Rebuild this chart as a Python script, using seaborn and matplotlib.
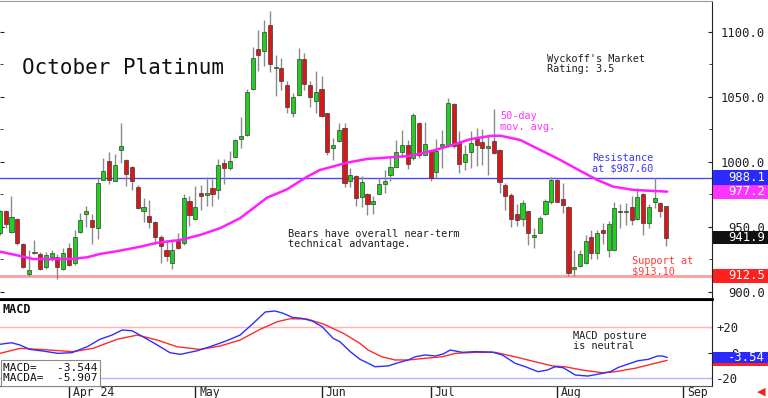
import numpy as np
import pandas as pd
import matplotlib
matplotlib.use("Agg")
import matplotlib.pyplot as plt
import matplotlib.transforms as mtransforms
from matplotlib.patches import Rectangle
import seaborn as sns

# daily candles, Mar 13 - Aug 27 2024
opens = [945, 962, 946, 956, 937, 914, 930, 929, 919, 927, 927, 918, 933.5, 922, 946, 960, 955, 949.5, 986, 1001,
         985.5, 1009, 1001.5, 996.5, 981, 962.5, 958.5, 953.5, 942, 932.5, 922, 939, 937.5, 970, 956.5, 976, 974.5, 980, 978.5, 999,
         995, 1004, 1017.5, 1021, 1056, 1087, 1085, 1105.5, 1072.5, 1072, 1059, 1037.5, 1051.5, 1079, 1059, 1047, 1056, 1037.5, 1010.5, 1016,
         1026, 985.5, 989.5, 973, 975, 967.5, 975.5, 983, 990, 996.5, 1007.5, 1013, 1003, 1030, 1005.5, 1009, 992.5, 1012.5, 1012, 1044.5,
         1015.5, 1000, 1008, 1018, 1015.5, 1011, 1016.5, 1009.5, 982.5, 974.5, 960, 956, 962, 942.5, 945.5, 960, 969.5, 986, 971.5, 965.5,
         918, 920, 922, 942, 930, 947.5, 932, 932, 962.5, 961.5, 965, 956.5, 975, 953, 969.5, 968.5, 966]
highs = [963, 963, 974, 957, 937.5, 932, 940, 931, 931, 932, 929, 934, 937.5, 948, 961, 966, 960, 988.5, 1003, 1008,
         1006, 1030, 1002, 997, 982, 972, 970.5, 954.5, 943.5, 940, 941, 945, 975, 973.5, 981.5, 982, 988.5, 987, 1002.5, 1002,
         1008.5, 1018, 1034.5, 1056, 1088.5, 1101.5, 1109.5, 1116, 1082.5, 1080, 1062.5, 1053, 1087.5, 1083.5, 1062, 1070, 1066.5, 1038, 1018.5, 1030,
         1030, 995, 990, 989, 976, 974, 988, 994, 1004, 1017, 1024.5, 1017, 1038, 1030.5, 1031, 1010, 1018, 1024.5, 1049, 1045,
         1023.5, 1013, 1023.5, 1026, 1025, 1021, 1041, 1010, 983.5, 976.5, 968, 971, 962.5, 949, 958.5, 971.5, 988.5, 987.5, 983.5, 966,
         932, 932, 944, 947.5, 948, 953, 954.5, 969.5, 967.5, 968.5, 973.5, 980, 976.5, 967.5, 987.5, 969, 966.5]
lows = [944, 949, 945, 936, 918.5, 912, 929, 917, 918, 924, 910, 917, 920, 921, 945, 950, 937, 941, 986, 983,
        985, 999, 981.5, 978.5, 963.5, 954, 949, 937, 922.5, 923.5, 917.5, 933, 936.5, 951, 955, 963, 966.5, 966, 971.5, 983,
        994, 1003.5, 1010.5, 1020, 1055, 1070, 1073.5, 1069, 1051, 1055.5, 1038, 1034.5, 1051, 1055.5, 1042.5, 1037.5, 1034.5, 1005, 1001.5, 1015.5,
        981, 981, 966.5, 965.5, 959, 960, 975, 976, 985.5, 996, 1004, 994.5, 1001.5, 1003, 1005, 985.5, 987.5, 995, 1011.5, 1011,
        991.5, 994, 995, 997, 997.5, 990, 1006, 976, 963, 950, 951, 951, 936, 933.5, 945, 959.5, 968, 969, 960.5, 912,
        912, 919.5, 921.5, 925, 925, 937, 927, 931.5, 949, 951.5, 951.5, 955, 944, 949, 964.5, 958, 935.5]
closes = [962, 952, 958, 937.5, 919.5, 917, 931, 917.5, 928.5, 930, 919, 930, 921, 942, 955, 962, 950, 983.5, 993, 986,
          998, 1012, 991, 985.5, 964.5, 965.5, 954, 942.5, 935, 928, 932.5, 934, 972, 959, 965.5, 973.5, 976.5, 975, 998, 995,
          1001, 1017, 1020, 1053.5, 1080, 1082, 1100, 1075, 1073, 1062.5, 1042.5, 1050, 1079, 1060, 1050, 1053.5, 1035, 1008, 1013, 1024.5,
          983.5, 990, 972, 984.5, 967.5, 970, 983, 985, 996.5, 1007.5, 1013, 998.5, 1036, 1005.5, 1014, 987.5, 1008.5, 1013.5, 1045, 1012,
          998.5, 1006, 1014.5, 1013, 1010.5, 1012, 1007, 984.5, 973.5, 956, 955, 968.5, 945, 944, 957, 970, 986, 969.5, 967, 914.5,
          919.5, 929, 939, 930, 945.5, 945.5, 952, 964.5, 961.5, 962.5, 955, 973, 953, 965.5, 972, 962.5, 941.9]

# 50-day moving average, read at candle positions
ma_idx = [0, 3.5, 5.7, 8.7, 12.7, 15.2, 17.4, 20.9, 24.4, 27.4, 31.4, 34.8, 38.3, 41.8, 44.1, 46.5, 50, 53.5, 55.7, 60.5,
          63.9, 69.7, 71.4, 75.4, 78.4, 81.9, 85.4, 87.1, 90.6, 94.1, 97.6, 101, 104, 106.8, 110.3, 113.8, 116.2]
ma_vals = [931, 927.7, 925.4, 925.2, 925.4, 926.7, 929.2, 931.8, 934.8, 937.9, 940, 943.8, 949, 956.7, 964.4, 972.5, 979, 988.7, 993.8, 999.5,
           1002.3, 1004.1, 1004.6, 1008.7, 1012.5, 1017.5, 1020, 1020.2, 1016.9, 1009.2, 1001.5, 993.3, 986.2, 981, 978.5, 977.7, 977.2]

# MACD and its average (MACDA)
macd_idx = [0, 2, 3.5, 5.2, 7.5, 10.1, 12.5, 15.2, 17.4, 19.5, 21.3, 23, 24.9, 27.4, 29.6, 31.4, 34.3, 36.6, 39.5, 41.8,
            44.1, 46.2, 47.9, 49.3, 50.9, 52.6, 54.4, 56.1, 58, 59.2, 61, 62.7, 63.6, 65.3, 67.6, 69.3, 71.1, 72.3, 74, 75.8,
            77.2, 78.4, 80.5, 82.8, 85.7, 87.5, 89.7, 91.5, 93.7, 95.3, 96.7, 98.1, 100.2, 102.4, 104.9, 106.3, 107.7, 109.4, 111.1, 112.9,
            114.5, 115.3, 116.2]
macd_vals = [6.7, 7.9, 6.1, 2.7, 1.4, -0.4, 0.1, 4.8, 10.6, 13.9, 17.9, 17.3, 12.6, 6.1, 0.1, -1.2, 1.6, 4.8, 9.5, 13.9,
             23.1, 32, 32.8, 31, 27.8, 27, 24.9, 20.5, 11.4, 8.7, 0.9, -5.1, -7, -10.9, -10.3, -7.8, -5.6, -3.1, -1.7, -2.5,
             -0.9, 2.2, 0.4, 0.9, 0.6, -1.7, -8.2, -10.9, -14.8, -13.5, -10.9, -11.7, -17.4, -18.2, -16.1, -14.8, -11.4, -8.8, -6.2, -5.1,
             -2.5, -2.5, -3.544]
sig_idx = [0, 3.5, 7, 12.7, 16.2, 20.4, 23.9, 27.4, 30.8, 34.8, 38.3, 41.8, 45.3, 48.3, 50.5, 53.5, 56.3, 59.8, 62.7, 64.1,
           66.5, 68.8, 71.1, 74, 77, 79.3, 82.8, 86.2, 89.7, 93.2, 96.2, 98.4, 101.4, 104.9, 107.1, 110.6, 114.1, 116.2]
sig_vals = [-0.4, 3.5, 2.7, 0.9, 3.5, 10.6, 13.9, 10, 4.8, 2.7, 5.3, 10, 18.4, 24.4, 26.7, 26.5, 22.6, 15.3, 7.4, 2.2,
            -3.1, -5.6, -5.6, -4.3, -3.1, -0.4, 0.4, 0.4, -3.1, -7, -10.3, -10.9, -13.5, -15.6, -14.8, -12.1, -8.2, -5.907]

resistance = 987.6
support = 912.5
ma_last = 977.2

# trading days (exchange holidays removed)
holidays = ['2024-03-29', '2024-05-27', '2024-06-19', '2024-07-04', '2024-09-02']
bday = pd.offsets.CustomBusinessDay(holidays=holidays)
all_days = pd.date_range('2024-03-13', periods=125, freq=bday)
month_pos = [i for i in range(1, len(all_days)) if all_days[i].month != all_days[i - 1].month]
month_lab = [all_days[i].strftime('%b') for i in month_pos]
month_lab[0] = month_lab[0] + ' 24'

sns.set_style("white")
plt.rcParams['font.family'] = ['DejaVu Sans Mono', 'DejaVu Sans']

fig = plt.figure(figsize=(7.68, 3.98), dpi=100)
ax = fig.add_axes([0, 1 - 299 / 398, 712 / 768, 298 / 398])
ax2 = fig.add_axes([0, 1 - 386 / 398, 712 / 768, 86 / 398])

# candles
x = np.arange(len(closes))
o = np.array(opens, dtype=float)
c = np.array(closes, dtype=float)
up = c >= o
height = np.abs(c - o)
bottom = np.where(height < 1.2, (o + c) / 2 - 0.6, np.minimum(o, c))
height = np.maximum(height, 1.2)
ax.vlines(x, lows, highs, color='#8a8a8a', lw=1, zorder=2)
ax.bar(x, height, bottom=bottom, width=0.72, color=np.where(up, '#1fd01f', '#d81818'),
       edgecolor='#3a3a3a', linewidth=0.5, zorder=3)

sns.lineplot(x=ma_idx, y=ma_vals, ax=ax, color='#ff1eff', lw=1.8, estimator=None, sort=False, zorder=4)
ax.axhline(resistance, color='#4848ff', lw=1, zorder=1)
ax.axhline(support, color='#ff9c9c', lw=2, zorder=1)

ax.set_xlim(0, 124)
ax.set_ylim(894.6, 1123.8)
ax.set_xticks([])

# right price scale
ax.yaxis.tick_right()
ax.set_yticks([900, 950, 1000, 1050, 1100])
ax.set_yticklabels([f'{v:.1f}' for v in [900, 950, 1000, 1050, 1100]])
ax.set_yticks([925, 975, 1025, 1075], minor=True)
ax.tick_params(axis='y', which='both', direction='in', left=True, right=True, length=3,
               pad=38, labelsize=8.8, colors='#222222')
ax.tick_params(axis='y', which='minor', length=2)
for lab in ax.get_yticklabels():
    lab.set_horizontalalignment('right')

ax.spines['left'].set_visible(False)
ax.spines['top'].set_color('#9a9a9a')
ax.spines['right'].set_color('#222222')
ax.spines['bottom'].set_color('black')
ax.spines['bottom'].set_linewidth(2)


def value_box(axis, y, h, text, fc):
    trans = mtransforms.blended_transform_factory(axis.transAxes, axis.transData)
    axis.add_patch(Rectangle((1.001, y - h / 2), 56 / 712, h, transform=trans, facecolor=fc,
                             edgecolor='none', clip_on=False, zorder=5))
    if text:
        axis.text(765 / 712, y, text, transform=trans, ha='right', va='center', color='white',
                  fontsize=8.8, zorder=6, clip_on=False)


value_box(ax, ma_last, 11.0, f'{ma_last:.1f}', '#ff33ff')
value_box(ax, 988.1, 11.0, '988.1', '#2a2aff')
value_box(ax, closes[-1], 10.6, f'{closes[-1]:.1f}', '#111111')
value_box(ax, support, 11.0, f'{support:.1f}', '#ff2020')

# annotations
ax.text(3.8, 1067.7, 'October Platinum', fontsize=15, va='baseline', color='#111111')
ax.text(95.3, 1083, "Wyckoff's Market\nRating: 3.5", fontsize=7.4, va='top', linespacing=1.05, color='#222222')
ax.text(87.1, 1039, '50-day\nmov. avg.', fontsize=7.4, va='top', linespacing=1.05, color='#ff33ff')
ax.text(103.1, 1007, 'Resistance\nat $987.60', fontsize=7.4, va='top', linespacing=1.05, color='#3a3aff')
ax.text(110.1, 927.7, 'Support at\n$913.10', fontsize=7.4, va='top', linespacing=1.05, color='#ff3a3a')
ax.text(50.2, 948.5, 'Bears have overall near-term\ntechnical advantage.', fontsize=7.4, va='top',
        linespacing=1.05, color='#222222')

# MACD panel
ax2.axhline(20, color='#ffb4b4', lw=1, zorder=1)
ax2.axhline(-20, color='#b4b4ff', lw=1, zorder=1)
sns.lineplot(x=sig_idx, y=sig_vals, ax=ax2, color='#ff2a2a', lw=1, estimator=None, sort=False, zorder=3)
sns.lineplot(x=macd_idx, y=macd_vals, ax=ax2, color='#2e2eff', lw=1, estimator=None, sort=False, zorder=4)
ax2.set_xlim(0, 124)
ax2.set_ylim(-26, 41.4)

ax2.yaxis.tick_right()
ax2.set_yticks([20, 0, -20])
ax2.set_yticklabels(['+20', '0', '-20'])
ax2.tick_params(axis='y', direction='in', length=3, pad=19, labelsize=8.8, colors='#222222')
for lab in ax2.get_yticklabels():
    lab.set_horizontalalignment('right')

ax2.set_xticks(month_pos)
ax2.set_xticklabels(month_lab)
ax2.tick_params(axis='x', direction='out', length=8.6, width=1, pad=-8.8, labelsize=8.3,
                colors='#222222', bottom=True)
shift = mtransforms.ScaledTranslation(3 / 72, 0, fig.dpi_scale_trans)
for lab in ax2.get_xticklabels():
    lab.set_horizontalalignment('left')
    lab.set_verticalalignment('top')
    lab.set_transform(lab.get_transform() + shift)

ax2.spines['left'].set_visible(False)
ax2.spines['top'].set_color('black')
ax2.spines['right'].set_color('#222222')
ax2.spines['bottom'].set_color('#555555')

# MACDA box sits under the MACD box, only its lower edge shows
value_box(ax2, sig_vals[-1], 9.4, None, '#ff2020')
value_box(ax2, macd_vals[-1], 9.0, f'{macd_vals[-1]:.2f}', '#2a2aff')

ax2.text(0.003, 0.97, 'MACD', transform=ax2.transAxes, fontsize=8.5, weight='bold', va='top', color='#111111')
ax2.text(0.004, 0.03, f'MACD=   {macd_vals[-1]:.3f}\nMACDA=  {sig_vals[-1]:.3f}', transform=ax2.transAxes,
         fontsize=8, va='bottom', linespacing=1.1, color='#111111',
         bbox=dict(boxstyle='square,pad=0.2', fc='white', ec='#8a8a8a', lw=0.8))
ax2.text(99.8, 17.1, 'MACD posture\nis neutral', fontsize=7.4, va='top', linespacing=1.05, color='#222222')

fig.text(0.997, 0.004, '◀', color='#ee2222', ha='right', va='bottom', fontsize=8, family='DejaVu Sans')

fig.savefig('out.png', dpi=100)
